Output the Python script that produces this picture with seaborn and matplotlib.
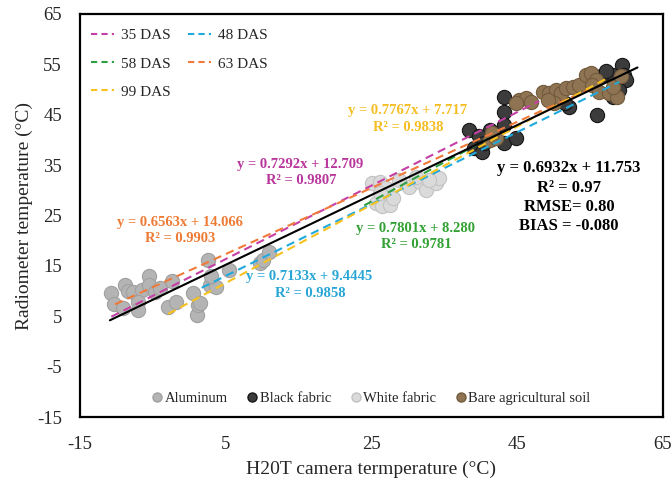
import matplotlib
matplotlib.use("Agg")
import matplotlib.pyplot as plt
import seaborn as sns
import pandas as pd
import numpy as np
from matplotlib.lines import Line2D

sns.set_style("white")
plt.rcParams['font.family'] = ['Liberation Serif', 'DejaVu Serif']
plt.rcParams['axes.unicode_minus'] = False

# ---------------- data ----------------
alu_x = [-10.7, -8.8, -10.4, -8.4, -7.7, -6.5, -5.6, -5.6, -4.7, -7.0, -9.1, -7.0, -4.0, -2.4,
         -2.9, -1.8, 0.5, 1.0, 1.2, 2.6, 2.8, 3.7, 5.5, 9.7, 10.1, 11.0, 3.0, 1.4]
alu_y = [9.7, 11.2, 7.5, 10.1, 9.9, 10.2, 12.9, 11.2, 9.9, 7.9, 6.6, 6.3, 10.6, 11.9,
         6.9, 7.9, 9.6, 5.3, 7.3, 16.2, 11.2, 10.9, 14.2, 15.6, 16.2, 17.8, 12.9, 7.7]

white_x = [25.0, 26.1, 27.0, 25.6, 26.5, 27.5, 28.8, 30.2, 31.6, 32.5, 33.9, 34.3, 32.9, 31.1, 26.1, 27.9]
white_y = [31.4, 31.7, 30.4, 27.4, 26.8, 27.1, 32.1, 30.7, 31.7, 30.1, 31.4, 32.4, 32.1, 32.7, 29.4, 28.4]

black_x = [43.2, 43.2, 38.4, 39.1, 40.2, 41.2, 43.2, 43.2, 44.8, 39.8, 40.5, 41.8, 52.1, 56.0,
           58.1, 59.4, 59.7, 59.9, 58.1, 56.5, 57.2, 55.3, 59.0, 51.6]
black_y = [48.6, 45.6, 42.0, 38.4, 37.7, 42.0, 43.0, 39.3, 40.3, 40.7, 39.3, 40.3, 46.6, 45.0,
           48.6, 54.9, 52.9, 51.9, 52.9, 52.6, 53.6, 52.2, 49.9, 47.3]

soil_x = [45.3, 46.2, 46.9, 44.8, 48.5, 49.4, 50.3, 51.0, 51.7, 52.6, 53.5, 54.4, 55.1, 55.8,
          55.3, 56.2, 57.6, 58.7, 58.1, 59.2, 50.1, 49.2, 41.2, 42.1, 41.6]
soil_y = [47.9, 48.3, 47.6, 47.3, 49.6, 49.3, 49.9, 49.3, 50.3, 50.6, 50.9, 52.9, 53.2, 51.9,
          50.9, 49.6, 49.3, 48.6, 50.6, 52.6, 47.3, 47.9, 40.0, 40.3, 41.3]

materials = ["Aluminum", "Black fabric", "White fabric", "Bare agricultural soil"]

# regression lines (from the equations printed on the chart)
das_labels = ["35 DAS", "48 DAS", "58 DAS", "63 DAS", "99 DAS"]
das_slope = [0.7292, 0.7133, 0.7801, 0.6563, 0.7767]
das_icpt = [12.709, 9.4445, 8.280, 14.066, 7.717]
das_xmin = [-10.7, 1.7, 24.0, -10.2, -2.9]
das_xmax = [48.0, 59.0, 41.0, 55.0, 57.6]
das_eq = ["y = 0.7292x + 12.709", "y = 0.7133x + 9.4445", "y = 0.7801x + 8.280",
          "y = 0.6563x + 14.066", "y = 0.7767x + 7.717"]
das_r2 = ["R² = 0.9807", "R² = 0.9858", "R² = 0.9781", "R² = 0.9903", "R² = 0.9838"]

all_slope, all_icpt = 0.6932, 11.753
all_xmin, all_xmax = -10.9, 61.5
all_text = ["y = 0.6932x + 11.753", "R² = 0.97", "RMSE= 0.80", "BIAS = -0.080"]

# ---------------- styles ----------------
mat_face = {"Aluminum": "#B4B4B4", "Black fabric": "#3C3C3C",
            "White fabric": "#DADADA", "Bare agricultural soil": "#8E7453"}
mat_edge = {"Aluminum": "#A0A0A0", "Black fabric": "#161616",
            "White fabric": "#C2C2C2", "Bare agricultural soil": "#725A3C"}
das_color = ["#C540A6", "#20A9DC", "#2EA043", "#F07A3A", "#F8C21E"]
das_tcolor = ["#B9379C", "#27A6D6", "#33A235", "#EE7B35", "#F5BE22"]
# label centres (data coords) for the equation text
das_pos = [(15.2, 35.2), (16.5, 12.8), (31.0, 22.5), (-1.3, 23.7), (29.9, 45.8)]

# ---------------- figure ----------------
fig = plt.figure(figsize=(6.72, 4.88), dpi=100)
ax = fig.add_axes([80 / 672, 71 / 488, 583 / 672, 403 / 488])

pts = pd.DataFrame({
    "x": alu_x + black_x + white_x + soil_x,
    "y": alu_y + black_y + white_y + soil_y,
    "mat": (["Aluminum"] * len(alu_x) + ["Black fabric"] * len(black_x)
            + ["White fabric"] * len(white_x) + ["Bare agricultural soil"] * len(soil_x)),
})
for m in materials:
    sub = pts[pts.mat == m]
    sns.scatterplot(data=sub, x="x", y="y", ax=ax, s=105, color=mat_face[m],
                    edgecolor=mat_edge[m], linewidth=0.8, zorder=2, legend=False)

line_rows = []
for lab, a, b, x0, x1 in zip(das_labels, das_slope, das_icpt, das_xmin, das_xmax):
    for xv in (x0, x1):
        line_rows.append({"x": xv, "y": a * xv + b, "set": lab})
lines = pd.DataFrame(line_rows)
for lab, col in zip(das_labels, das_color):
    sub = lines[lines["set"] == lab]
    sns.lineplot(data=sub, x="x", y="y", ax=ax, color=col, lw=1.5,
                 dashes=False, zorder=3, legend=False, estimator=None, sort=False)
    ax.lines[-1].set_dashes([4, 2.5])

all_df = pd.DataFrame({"x": [all_xmin, all_xmax],
                       "y": [all_slope * all_xmin + all_icpt, all_slope * all_xmax + all_icpt]})
sns.lineplot(data=all_df, x="x", y="y", ax=ax, color="black", lw=1.5, zorder=4,
             legend=False, estimator=None)

# equation labels
for eq, r2, (px, py), tc in zip(das_eq, das_r2, das_pos, das_tcolor):
    ax.text(px, py, eq, color=tc, fontsize=10.5, fontweight="bold", ha="center", va="center", zorder=5)
    ax.text(px + 0.1, py - 3.3, r2, color=tc, fontsize=10.5, fontweight="bold", ha="center", va="center", zorder=5)
for i, t in enumerate(all_text):
    ax.text(52.1, 34.4 - i * 3.85, t, color="black", fontsize=12, fontweight="bold",
            ha="center", va="center", zorder=5)

# axes
ax.set_xlim(-15, 65)
ax.set_ylim(-15, 65)
ax.set_xticks(np.arange(-15, 66, 20))
ax.set_yticks(np.arange(-15, 66, 10))
ax.tick_params(axis="both", length=0, labelsize=13.5)
ax.tick_params(axis="x", pad=14)
ax.tick_params(axis="y", pad=13)
ax.set_xlabel("H20T camera termperature (°C)", fontsize=14, labelpad=5)
ax.set_ylabel("Radiometer temperature (°C)", fontsize=14, labelpad=3)
for sp in ax.spines.values():
    sp.set_visible(True)
    sp.set_color("black")
    sp.set_linewidth(1.6)
ax.grid(False)

# DAS legend (top-left)
order = [0, 2, 4, 1, 3]
das_handles = [Line2D([0], [0], color=das_color[i], lw=1.5, dashes=[3, 2]) for i in order]
leg1 = ax.legend(das_handles, [das_labels[i] for i in order], ncol=2, loc="upper left",
                 bbox_to_anchor=(0.0, 0.99), frameon=False, fontsize=11,
                 handlelength=1.5, handletextpad=0.5, labelspacing=0.95,
                 columnspacing=1.1, borderaxespad=0.3)
ax.add_artist(leg1)

# material legend (bottom)
mat_handles = [Line2D([0], [0], marker="o", ls="", markersize=6.5,
                      markerfacecolor=mat_face[m], markeredgecolor=mat_edge[m]) for m in materials]
ax.legend(mat_handles, materials, ncol=4, loc="lower center", bbox_to_anchor=(0.5, -0.003),
          frameon=False, fontsize=10.5, handlelength=0.6, handletextpad=0.2,
          columnspacing=1.4)

fig.savefig("out.png", dpi=100)
